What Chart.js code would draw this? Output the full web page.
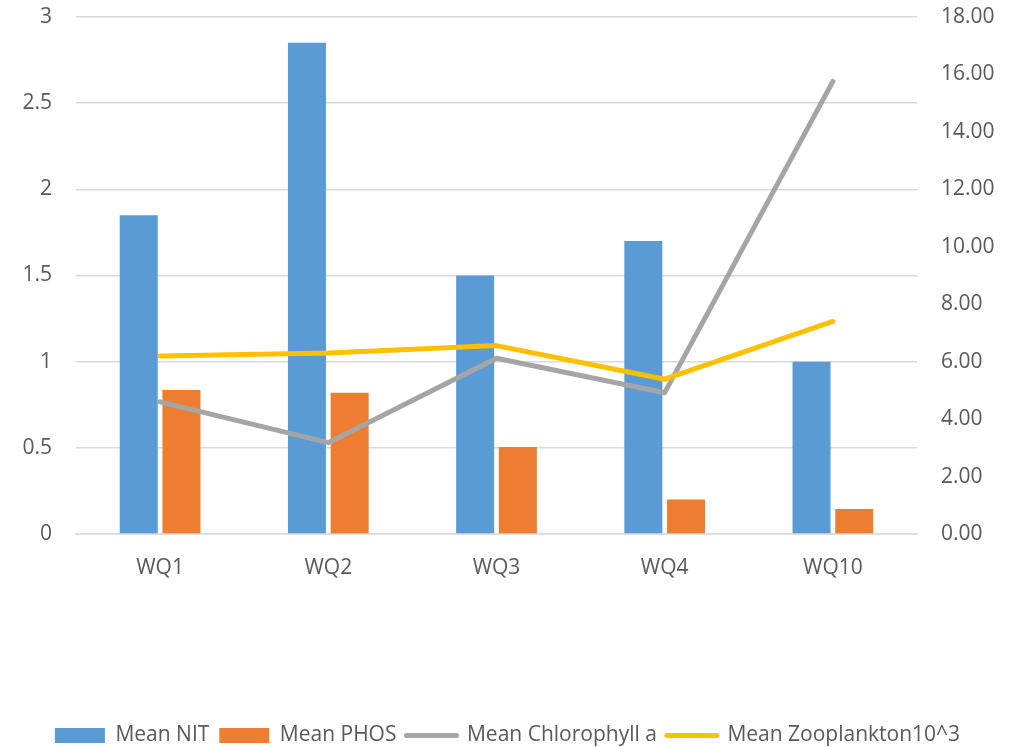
<!DOCTYPE html>
<html>
<head>
<meta charset="utf-8">
<script src="https://cdn.jsdelivr.net/npm/chart.js@4.4.1/dist/chart.umd.min.js"></script>
<style>
  html, body { margin: 0; padding: 0; background: #ffffff; }
  #wrap { width: 1015px; height: 747px; position: relative; }
</style>
</head>
<body>
<div id="wrap"><canvas id="chart" width="1015" height="747"></canvas></div>
<script>
// Sampling stations
const stations = ['WQ1', 'WQ2', 'WQ3', 'WQ4', 'WQ10'];

// Nutrients (left axis)
const meanNIT  = [1.85, 2.85, 1.50, 1.70, 1.00];
const meanPHOS = [0.835, 0.82, 0.505, 0.20, 0.145];

// Biological measures (right axis)
const meanChlorophyllA   = [4.60, 3.18, 6.12, 4.92, 15.76];
const meanZooplankton1e3 = [6.20, 6.30, 6.56, 5.39, 7.40];

// Axis ranges
const leftAxisRange  = { min: 0, max: 3,  step: 0.5 };
const rightAxisRange = { min: 0, max: 18, step: 2 };

const textColor = '#595959';
const gridColor = '#d9d9d9';
const tickFont = { family: '"Open Sans", sans-serif', size: 21 };

// Vertical axes: fixed width, no extra room reserved for the end labels
const fixVertical = (width) => (s) => {
  s.width = width;
  s.paddingTop = 0;
  s.paddingBottom = 0;
};

new Chart(document.getElementById('chart'), {
  data: {
    labels: stations,
    datasets: [
      {
        type: 'line', label: 'Mean Zooplankton10^3', data: meanZooplankton1e3,
        yAxisID: 'yRight', borderColor: '#ffc000', backgroundColor: '#ffc000',
        borderWidth: 5, pointRadius: 0, borderCapStyle: 'round', borderJoinStyle: 'round',
        tension: 0, order: 1, pointStyle: 'line'
      },
      {
        type: 'line', label: 'Mean Chlorophyll a', data: meanChlorophyllA,
        yAxisID: 'yRight', borderColor: '#a5a5a5', backgroundColor: '#a5a5a5',
        borderWidth: 5, pointRadius: 0, borderCapStyle: 'round', borderJoinStyle: 'round',
        tension: 0, order: 2, pointStyle: 'line'
      },
      {
        type: 'bar', label: 'Mean NIT', data: meanNIT, yAxisID: 'yLeft',
        backgroundColor: '#5b9bd5', borderWidth: 0, order: 3, pointStyle: 'rect',
        categoryPercentage: 0.508, barPercentage: 0.89
      },
      {
        type: 'bar', label: 'Mean PHOS', data: meanPHOS, yAxisID: 'yLeft',
        backgroundColor: '#ed7d31', borderWidth: 0, order: 4, pointStyle: 'rect',
        categoryPercentage: 0.508, barPercentage: 0.89
      }
    ]
  },
  options: {
    responsive: false,
    animation: false,
    layout: { autoPadding: false, padding: { top: 17, right: 0, bottom: -9, left: 0 } },
    plugins: {
      tooltip: { enabled: false },
      legend: {
        position: 'bottom',
        labels: {
          usePointStyle: true,
          pointStyleWidth: 50,
          boxHeight: 15,
          padding: 10,
          color: textColor,
          font: { family: '"Open Sans", sans-serif', size: 21 },
          sort: (a, b) => {
            const rank = ['Mean NIT', 'Mean PHOS', 'Mean Chlorophyll a', 'Mean Zooplankton10^3'];
            return rank.indexOf(a.text) - rank.indexOf(b.text);
          },
          generateLabels: (chart) => {
            const items = Chart.defaults.plugins.legend.labels.generateLabels(chart);
            items.forEach(it => {
              const ds = chart.data.datasets[it.datasetIndex];
              if (ds.type === 'line') { it.lineWidth = 5; it.lineCap = 'round'; }
              else { it.lineWidth = 0; }
            });
            return items;
          }
        }
      }
    },
    scales: {
      x: {
        grid: { display: false },
        border: { display: true, color: gridColor, width: 1.5 },
        ticks: { color: textColor, font: tickFont, padding: 13, maxRotation: 0 },
        afterFit: (s) => { s.height = 181; }
      },
      yLeft: {
        type: 'linear', position: 'left',
        min: leftAxisRange.min, max: leftAxisRange.max,
        grid: { color: gridColor, lineWidth: 1.5, drawTicks: false },
        border: { display: false },
        ticks: {
          stepSize: leftAxisRange.step, color: textColor, font: tickFont, padding: 24,
          callback: (v) => String(Number(v))
        },
        afterFit: fixVertical(76)
      },
      yRight: {
        type: 'linear', position: 'right',
        min: rightAxisRange.min, max: rightAxisRange.max,
        grid: { display: false, drawTicks: false },
        border: { display: false },
        ticks: {
          stepSize: rightAxisRange.step, color: textColor, font: tickFont, padding: 24,
          callback: (v) => Number(v).toFixed(2)
        },
        afterFit: fixVertical(98)
      }
    }
  }
});
</script>
</body>
</html>
